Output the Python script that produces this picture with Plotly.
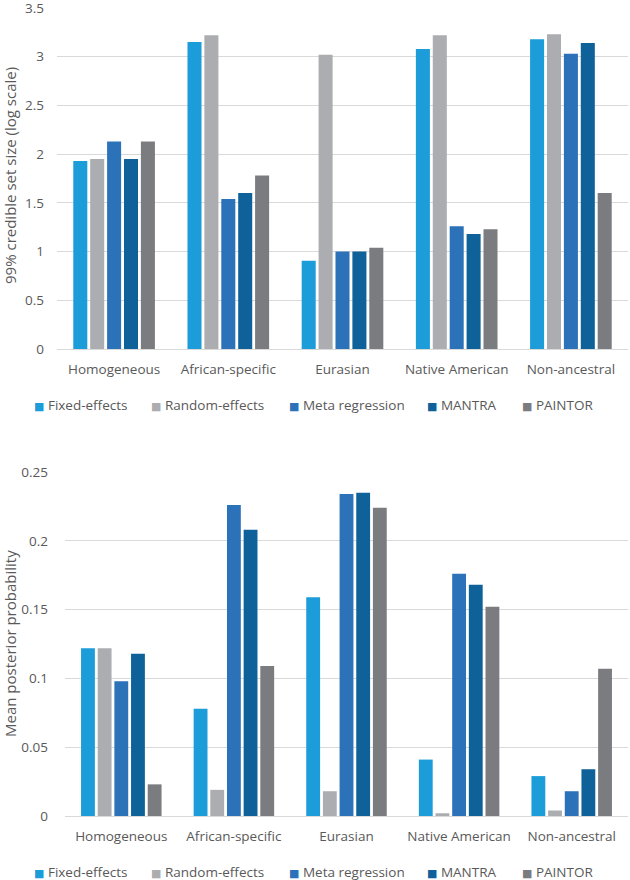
import plotly.graph_objects as go

categories = ["Homogeneous", "African-specific", "Eurasian", "Native American", "Non-ancestral"]
methods = ["Fixed-effects", "Random-effects", "Meta regression", "MANTRA", "PAINTOR"]

# 99% credible set size (log scale)
set_fixed = [1.93, 3.15, 0.905, 3.08, 3.18]
set_random = [1.95, 3.22, 3.02, 3.22, 3.23]
set_meta = [2.13, 1.54, 1.00, 1.26, 3.03]
set_mantra = [1.95, 1.60, 1.00, 1.18, 3.14]
set_paintor = [2.13, 1.78, 1.04, 1.23, 1.60]

# Mean posterior probability
pp_fixed = [0.122, 0.078, 0.159, 0.041, 0.029]
pp_random = [0.122, 0.019, 0.018, 0.002, 0.004]
pp_meta = [0.098, 0.226, 0.234, 0.176, 0.018]
pp_mantra = [0.118, 0.208, 0.235, 0.168, 0.034]
pp_paintor = [0.023, 0.109, 0.224, 0.152, 0.107]

top_ticks = [0, 0.5, 1, 1.5, 2, 2.5, 3, 3.5]
top_ticktext = ["0", "0.5", "1", "1.5", "2", "2.5", "3", "3.5"]

colors = ["#1C9DD9", "#ABADB0", "#2C72B9", "#0E6299", "#7B7C80"]
FONT = "Open Sans"
TXT = "#595959"
GRID = "#D9D9D9"

W, H = 630, 880
fig = go.Figure()

top_series = [set_fixed, set_random, set_meta, set_mantra, set_paintor]
bot_series = [pp_fixed, pp_random, pp_meta, pp_mantra, pp_paintor]

for name, vals, c in zip(methods, top_series, colors):
    fig.add_trace(go.Bar(x=categories, y=vals, name=name, marker=dict(color=c, line=dict(width=0)),
                         xaxis="x", yaxis="y", showlegend=False))
for name, vals, c in zip(methods, bot_series, colors):
    fig.add_trace(go.Bar(x=categories, y=vals, name=name, marker=dict(color=c, line=dict(width=0)),
                         xaxis="x2", yaxis="y2", showlegend=False))

def fx(px):
    return px / W

def fy(py):
    return 1 - py / H

tickfont = dict(family=FONT, size=13.5, color=TXT)
axis_common = dict(showline=False, ticks="", tickfont=tickfont, automargin=False, ticklabeloverflow="allow")

# legend drawn as text entries (coloured square + label)
legend_x = [32, 149, 287, 425, 520]
annotations = []
for ly in (405, 872):
    for name, c, lx in zip(methods, colors, legend_x):
        annotations.append(dict(
            text=f"<span style='color:{c}; font-family:DejaVu Sans; font-size:11px'>■</span> {name}",
            x=fx(lx), y=fy(ly), xref="paper", yref="paper", showarrow=False,
            xanchor="left", yanchor="middle", font=dict(family=FONT, size=13.5, color=TXT)))

annotations += [
    dict(text="99% credible set size (log scale)", textangle=-90, x=fx(10), y=fy(176),
         xref="paper", yref="paper", showarrow=False, xanchor="center", yanchor="middle",
         font=dict(family=FONT, size=15, color=TXT)),
    dict(text="Mean posterior probability", textangle=-90, x=fx(10), y=fy(644),
         xref="paper", yref="paper", showarrow=False, xanchor="center", yanchor="middle",
         font=dict(family=FONT, size=15, color=TXT)),
]

fig.update_layout(
    width=W, height=H,
    margin=dict(l=0, r=0, t=0, b=0),
    paper_bgcolor="white", plot_bgcolor="white",
    barmode="group", bargap=0.26, bargroupgap=0.17,
    font=dict(family=FONT, color=TXT, size=13),
    showlegend=False,
    xaxis=dict(domain=[fx(57), fx(628)], anchor="y", showgrid=False, zeroline=False,
               ticklabelstandoff=10, **axis_common),
    yaxis=dict(domain=[fy(349), fy(7)], anchor="x", range=[0, 3.51], tickvals=top_ticks,
               ticktext=top_ticktext,
               showgrid=True, gridcolor=GRID, gridwidth=1.3, zeroline=True, zerolinecolor=GRID,
               zerolinewidth=1.3, ticklabelstandoff=12, **axis_common),
    xaxis2=dict(domain=[fx(65), fx(628)], anchor="y2", showgrid=False, zeroline=False,
                ticklabelstandoff=10, **axis_common),
    yaxis2=dict(domain=[fy(816), fy(472)], anchor="x2", range=[0, 0.25], dtick=0.05,
                showgrid=True, gridcolor=GRID, gridwidth=1.3, zeroline=True, zerolinecolor=GRID,
                zerolinewidth=1.3, ticklabelstandoff=16, **axis_common),
    annotations=annotations,
)

fig.write_html("out.html", config={"displayModeBar": False},
               post_script="document.body.style.margin='0';")
